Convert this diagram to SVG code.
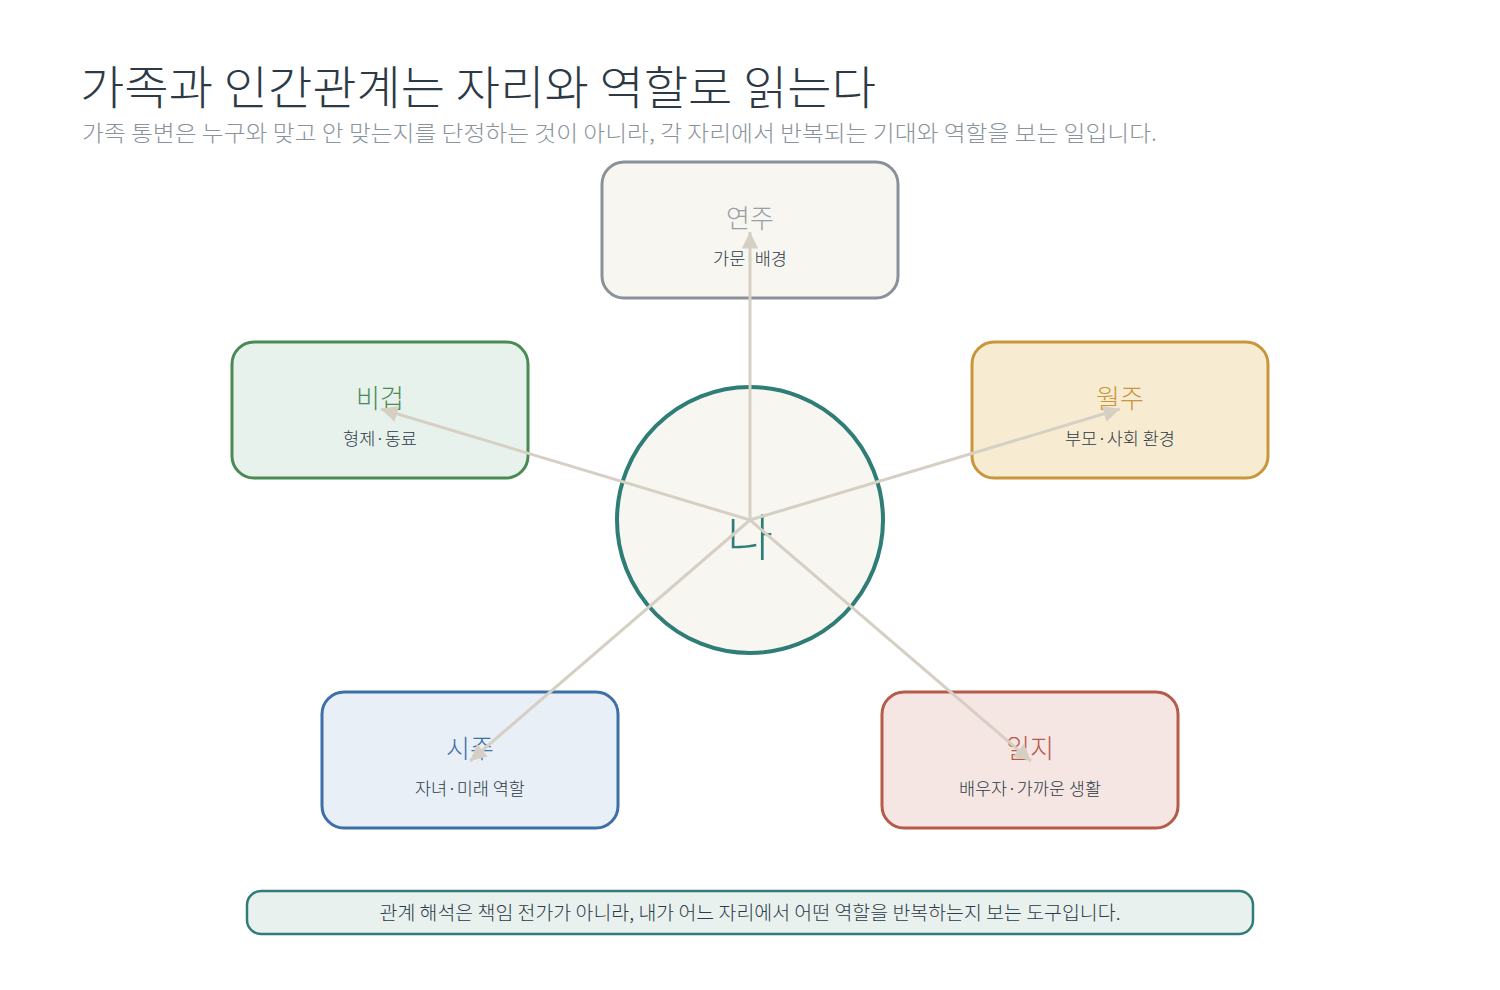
<svg xmlns="http://www.w3.org/2000/svg" width="1500" height="990" viewBox="0 0 1500 990">
<style>
text{font-family:"Noto Sans CJK KR","Noto Sans",sans-serif;}
.title{font-size:46px;font-weight:300;fill:#2d3a46;}
.subtitle{font-size:22px;font-weight:300;fill:#8a939c;}
.box{stroke-width:3;}
.name{font-size:26px;font-weight:300;text-anchor:middle;}
.sub{font-size:17.5px;fill:#2d3a46;text-anchor:middle;font-weight:300;}
.conn{stroke:#d6d0c4;stroke-width:3;fill:none;marker-end:url(#arrow);}
.note{font-size:19px;fill:#2d3a46;text-anchor:middle;font-weight:300;}
</style>
<defs>
<marker id="arrow" viewBox="0 0 10 10" refX="10" refY="5" markerWidth="6.5" markerHeight="5.5" markerUnits="strokeWidth" orient="auto">
<path d="M0,0 L10,5 L0,10 z" fill="#d6d0c4"/>
</marker>
</defs>
<rect width="1500" height="990" fill="#ffffff"/>
<g id="header">
<text class="title" x="80" y="104" textLength="796" lengthAdjust="spacingAndGlyphs">가족과 인간관계는 자리와 역할로 읽는다</text>
<text class="subtitle" x="82" y="141" textLength="1075" lengthAdjust="spacingAndGlyphs">가족 통변은 누구와 맞고 안 맞는지를 단정하는 것이 아니라, 각 자리에서 반복되는 기대와 역할을 보는 일입니다.</text>
</g>
<g id="node-me">
<circle cx="750" cy="520" r="133" fill="#f7f6f1" stroke="#2e7d76" stroke-width="4"/>
<text x="750" y="556" font-size="50" font-weight="300" fill="#2e7d76" text-anchor="middle">나</text>
</g>
<g id="node-yeonju">
<rect class="box" x="602" y="162" width="296" height="136" rx="22" fill="#f7f6f1" stroke="#8a9199"/>
<text class="name" x="750" y="228" fill="#9a9fa5">연주</text>
<text class="sub" x="750" y="265">가문·배경</text>
</g>
<g id="node-bigeop">
<rect class="box" x="232" y="342" width="296" height="136" rx="22" fill="#e8f2ec" stroke="#4a8a55"/>
<text class="name" x="380" y="408" fill="#4a8a55">비겁</text>
<text class="sub" x="380" y="445">형제·동료</text>
</g>
<g id="node-wolju">
<rect class="box" x="972" y="342" width="296" height="136" rx="22" fill="#f7ebd2" stroke="#c9963a"/>
<text class="name" x="1120" y="408" fill="#c9963a">월주</text>
<text class="sub" x="1120" y="445">부모·사회 환경</text>
</g>
<g id="node-siju">
<rect class="box" x="322" y="692" width="296" height="136" rx="22" fill="#e8eff7" stroke="#3d6fa8"/>
<text class="name" x="470" y="758" fill="#3d6fa8">시주</text>
<text class="sub" x="470" y="795">자녀·미래 역할</text>
</g>
<g id="node-ilji">
<rect class="box" x="882" y="692" width="296" height="136" rx="22" fill="#f6e6e3" stroke="#b65a4a"/>
<text class="name" x="1030" y="758" fill="#b65a4a">일지</text>
<text class="sub" x="1030" y="795">배우자·가까운 생활</text>
</g>
<g id="connectors">
<line class="conn" x1="750" y1="520" x2="750" y2="232"/>
<line class="conn" x1="750" y1="520" x2="381" y2="409"/>
<line class="conn" x1="750" y1="520" x2="1120" y2="409"/>
<line class="conn" x1="750" y1="520" x2="470" y2="761"/>
<line class="conn" x1="750" y1="520" x2="1031" y2="761"/>
</g>
<g id="note">
<rect x="247" y="891" width="1006" height="43" rx="14" fill="#e8f1ed" stroke="#2e7d76" stroke-width="2.5"/>
<text class="note" x="750" y="920" textLength="741" lengthAdjust="spacingAndGlyphs">관계 해석은 책임 전가가 아니라, 내가 어느 자리에서 어떤 역할을 반복하는지 보는 도구입니다.</text>
</g>
</svg>
